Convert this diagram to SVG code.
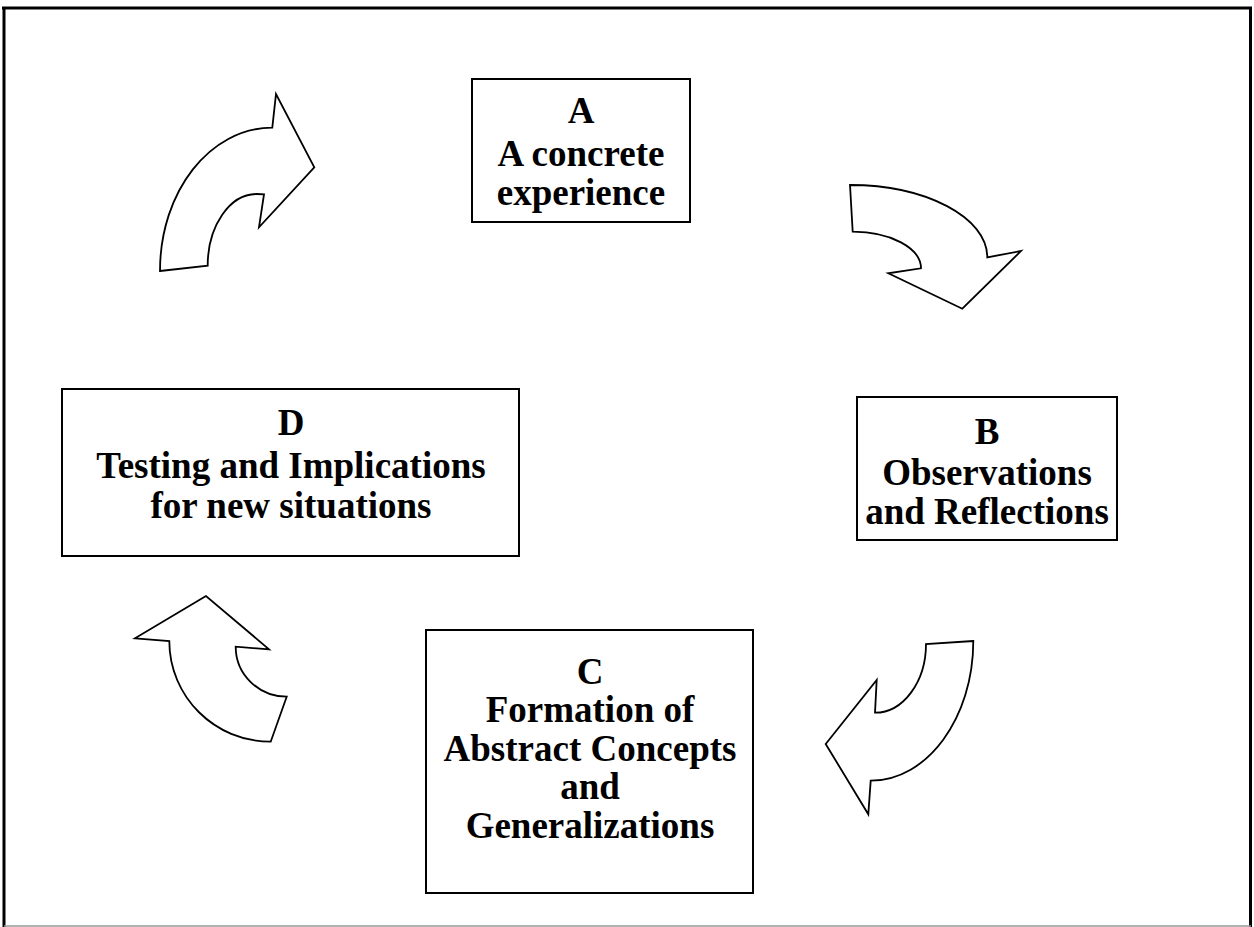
<svg xmlns="http://www.w3.org/2000/svg" width="1254" height="927" viewBox="0 0 1254 927">
<style>
.box{fill:#fff;stroke:#000;stroke-width:2}
.arr{fill:#fff;stroke:#000;stroke-width:1.8;stroke-linejoin:miter}
.t{font-family:"Liberation Serif","Times New Roman",serif;font-weight:bold;font-size:37px;text-anchor:middle;fill:#000}
</style>
<rect x="0" y="0" width="1254" height="927" fill="#fff"/>
<g id="frame">
<line x1="2" y1="8" x2="1252" y2="8" stroke="#000" stroke-width="3"/>
<line x1="4" y1="8" x2="4" y2="927" stroke="#000" stroke-width="3"/>
<line x1="1250.5" y1="8" x2="1250.5" y2="927" stroke="#000" stroke-width="3"/>
<line x1="4" y1="926" x2="1251" y2="926" stroke="#999" stroke-width="1.5"/>
</g>
<g id="connectors">
<path class="arr" d="M160,271 L207.7,265.7 C207.7,226 229.7,194 256.7,194 L264,194.3 L259,227.3 L314.3,167.3 L276,94 L272.3,127.7 C209.7,127.7 160,191.7 160,271 Z"/>
<path class="arr" d="M850,185 C925.7,185 987.3,217.3 987.3,257.3 L1021,251 L962.3,308.7 L888.3,273.3 L921,268.3 C921,248 890.3,231.7 852.7,231.7 Z"/>
<path class="arr" d="M973.3,641 L926,644 C926,682 903,712.7 875,712.7 L876.7,680 L825.7,744 L868.3,814.3 L870.7,780.7 C927.3,780.7 973.3,718 973.3,641 Z"/>
<path class="arr" d="M206,596 L135,638.3 L169.3,641 C169.3,696.7 214.7,741.7 270.7,741.7 L286.7,696.7 C258.7,696.7 235.7,674.3 235.7,646.7 L269,649.3 Z"/>
</g>
<g id="nodeA">
<rect class="box" x="472" y="79" width="218" height="143"/>
<text class="t" x="581" y="123">A</text>
<text class="t" x="581" y="166">A concrete</text>
<text class="t" x="581" y="205">experience</text>
</g>
<g id="nodeB">
<rect class="box" x="857" y="397" width="260" height="143"/>
<text class="t" x="987" y="444">B</text>
<text class="t" x="987" y="485">Observations</text>
<text class="t" x="987" y="524">and Reflections</text>
</g>
<g id="nodeC">
<rect class="box" x="426" y="630" width="327" height="263"/>
<text class="t" x="590" y="684">C</text>
<text class="t" x="590" y="722">Formation of</text>
<text class="t" x="590" y="761">Abstract Concepts</text>
<text class="t" x="590" y="799">and</text>
<text class="t" x="590" y="838">Generalizations</text>
</g>
<g id="nodeD">
<rect class="box" x="62" y="389" width="457" height="167"/>
<text class="t" x="291" y="435">D</text>
<text class="t" x="291" y="478">Testing and Implications</text>
<text class="t" x="291" y="518">for new situations</text>
</g>
</svg>
